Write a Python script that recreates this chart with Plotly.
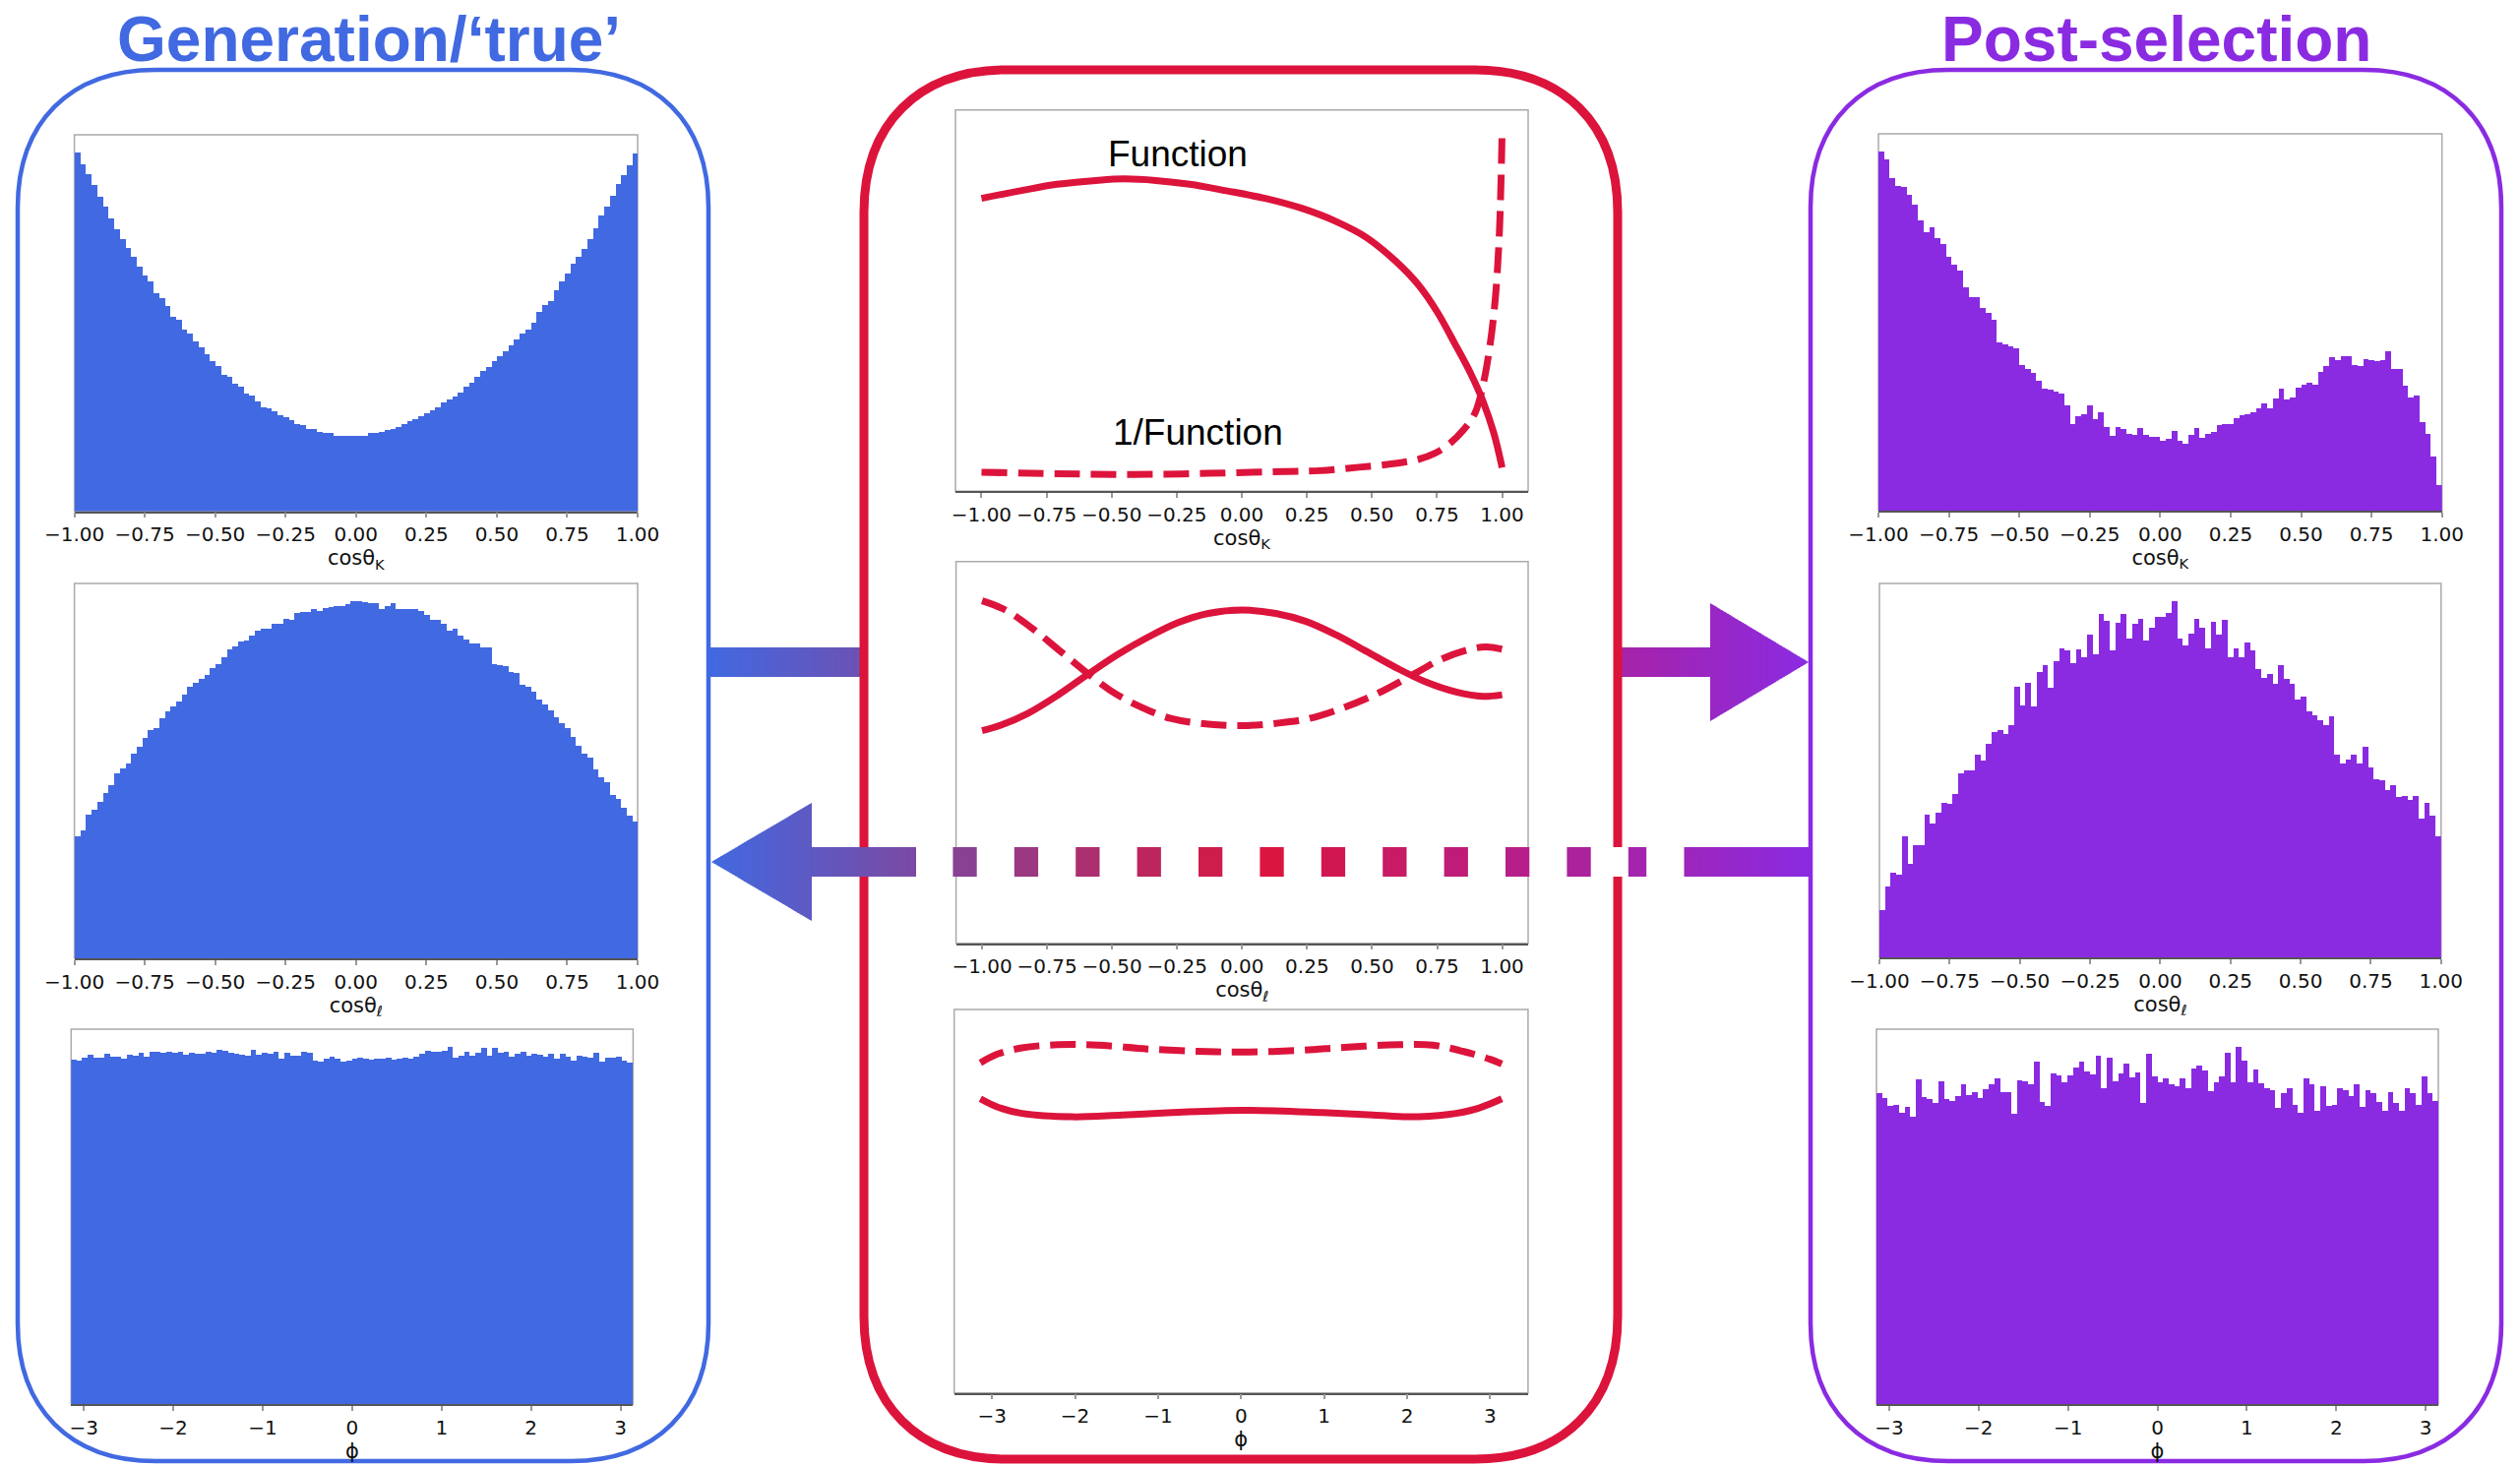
import numpy as np
import plotly.graph_objects as go

W, H = 2561, 1490

BLUE = "#4169E1"
RED = "#DC143C"
PURPLE = "#8A2BE2"

# ---------------- histogram contents (relative counts per bin) ----------------
gen_cosk = [
    100, 96.8, 94, 91, 87.7, 85, 81.6, 78.7, 75.9, 73.4,
    70.9, 68.1, 65.8, 64.2, 60.8, 59.3, 57.2, 54.3, 53.4, 50.6,
    49.5, 47.4, 45.6, 43.7, 41.9, 40.4, 38, 37.4, 35.5, 34.8,
    32.7, 32.2, 30.6, 29, 28.8, 27.8, 26.9, 26.1, 25.3, 24.3,
    24, 22.9, 22.9, 22.2, 21.7, 21.7, 21.1, 21.1, 20.9, 21.1,
    21.1, 20.9, 21.7, 21.7, 22.2, 22.7, 23.0, 23.6, 24.3, 25.0,
    25.7, 26.4, 27.4, 28.2, 29.0, 30.2, 31.1, 32.0, 33.2, 34.8,
    35.9, 37.4, 39.0, 40.1, 41.9, 43.2, 44.6, 46.3, 47.8, 49.5,
    50.6, 52.7, 55.5, 57.6, 58.5, 61.6, 64.2, 66.4, 69.0, 70.9,
    73.2, 75.8, 79.0, 82.4, 85.0, 87.9, 91.2, 93.8, 96.6, 99.7,
]
gen_cosl = [
    34.1, 35.9, 40.3, 41.6, 43.7, 46.2, 48.5, 51.7, 53.3, 54.5,
    57.4, 59.3, 61.7, 63.9, 64.4, 67.2, 69.2, 70.6, 71.8, 73.8,
    76.0, 77.3, 78.4, 79.5, 81.2, 82.5, 84.4, 86.4, 87.4, 88.7,
    89.0, 90.5, 91.7, 92.2, 92.4, 93.6, 93.8, 95.1, 94.8, 96.8,
    97.0, 97.0, 97.9, 97.4, 98.2, 98.4, 98.8, 98.6, 99.2, 100,
    100, 99.7, 99.5, 99.5, 97.9, 98.8, 99.5, 97.9, 97.7, 97.7,
    97.9, 97.2, 96.3, 94.9, 94.7, 93.6, 91.7, 92.2, 90.3, 89.2,
    88.1, 88.3, 87.1, 87.1, 82.5, 82.1, 81.9, 80.1, 79.8, 76.7,
    76.1, 74.7, 72.4, 71.0, 69.4, 67.6, 66.0, 64.4, 61.9, 59.6,
    57.3, 56.2, 52.8, 50.8, 49.4, 45.8, 44.6, 42.3, 40.0, 38.2,
]
gen_phi = [
    96.4, 96.1, 97.1, 97.7, 97.1, 97.1, 98.2, 97.3, 97.3, 96.8,
    97.8, 97.5, 98.3, 97.2, 98.7, 98.6, 98.3, 98.6, 98.3, 98.6,
    97.7, 98.4, 98.0, 98.0, 98.7, 98.3, 99.2, 98.9, 98.4, 98.0,
    97.8, 97.5, 99.2, 97.8, 98.4, 98.0, 98.7, 96.6, 98.4, 97.5,
    97.5, 98.7, 98.3, 96.1, 95.9, 96.6, 97.3, 96.6, 95.9, 96.1,
    96.6, 97.1, 96.8, 96.4, 96.8, 96.8, 97.0, 96.4, 96.6, 97.1,
    96.6, 97.3, 98.0, 98.9, 98.8, 98.8, 98.9, 100, 97.1, 97.5,
    98.7, 97.5, 98.4, 99.8, 97.5, 99.8, 98.4, 98.6, 97.3, 98.0,
    98.6, 97.5, 98.0, 97.7, 97.3, 98.0, 96.8, 98.0, 97.3, 96.1,
    97.5, 97.2, 97.1, 98.4, 95.9, 97.1, 97.1, 97.3, 96.1, 95.5,
]
sel_cosk = [
    100, 97.9, 92.6, 90.5, 90.3, 88, 85.3, 80.9, 77.7, 79,
    75.9, 74.3, 70.7, 68.5, 67, 62.3, 59.6, 59.6, 56.4, 55.1,
    53.3, 47, 46.2, 45.9, 45.2, 40.7, 39.6, 38.3, 36.2, 34.1,
    33.6, 33.3, 32.6, 29.4, 24.2, 26.3, 27, 29.4, 25.5, 27.5,
    23.3, 20.7, 23.3, 22.8, 21.3, 21, 22.9, 21, 20.5, 20.5,
    19.4, 20, 22.3, 19.4, 18.6, 21.2, 22.9, 20.3, 21.3, 21.8,
    23.8, 24.2, 24.2, 25.7, 26.6, 27, 27.3, 28.4, 29.9, 28.4,
    31.2, 33.9, 31, 31.5, 34.3, 35.2, 35.7, 35, 38.6, 40.4,
    42.9, 42, 43.1, 43.1, 40.7, 40.2, 42.3, 42, 41.7, 42,
    44.3, 39.4, 39.4, 34.7, 31.5, 32.2, 24.7, 21.5, 15, 7,
]
sel_cosl = [
    13.3, 20, 23.7, 23.2, 33.9, 26.2, 31.5, 31.5, 40, 37.7,
    40.7, 43.4, 43, 46, 51.8, 52.4, 52.4, 56.9, 55.2, 60.1,
    63.3, 63.9, 62.8, 65.3, 76.1, 70.7, 77, 70.4, 80, 82.2,
    75.7, 83.3, 86.9, 86.3, 82.6, 86.5, 84.2, 90.6, 85.1, 96.3,
    94.6, 86.2, 94, 96.4, 89.5, 93.7, 95, 89, 92.7, 95.5,
    95.5, 96.8, 100, 89.4, 87.7, 90.9, 95, 92.6, 86.9, 94.1,
    90.6, 94.8, 84.2, 86.9, 84.4, 88.3, 86.3, 81, 78.4, 79.6,
    76.8, 82.2, 78.2, 76.8, 72.4, 73.3, 69.2, 68.1, 66.7, 65.3,
    67.8, 56.9, 54.5, 55.5, 57, 54.5, 59.1, 53.2, 49.9, 49.7,
    47.1, 48.3, 45.1, 45.3, 44.3, 45.3, 38.9, 43.4, 39.7, 33.9,
]
sel_phi = [
    87.1, 85.8, 83.5, 83.9, 81.7, 83.1, 80.5, 90.9, 85.9, 85.4,
    84.2, 90.4, 85.4, 84.9, 86.3, 89.5, 86.5, 87.4, 85.8, 88.3,
    89.5, 91.1, 87.4, 87.4, 81.2, 90.8, 90.4, 89.7, 95.9, 84.7,
    83.5, 92.5, 92, 90.2, 92, 94.3, 95.9, 93.2, 92.3, 97.5,
    88.6, 97.1, 90.4, 92.7, 95.4, 91.6, 92.9, 84.2, 98.2, 91.8,
    90, 91.1, 89.7, 89.1, 91.3, 88.6, 94, 94.8, 93.4, 87.6,
    90.2, 91.8, 98.4, 90.2, 100, 96.3, 90, 93.8, 89.9, 88.5,
    87.9, 83, 87.1, 88.6, 83.9, 81.6, 91.3, 89.5, 82.1, 89.1,
    83.6, 83.8, 88.5, 87.9, 86.3, 89.7, 83.1, 87.9, 87.2, 84.7,
    82.2, 87.4, 84.4, 82.2, 88.5, 87, 83.9, 91.7, 87, 84.9,
]

# ---------------- acceptance function and its inverse ----------------
k_x_fn = [-1.0, -0.85, -0.71, -0.56, -0.45, -0.33, -0.2, -0.06, 0.09, 0.23,
          0.36, 0.48, 0.59, 0.68, 0.75, 0.82, 0.88, 0.925, 0.968, 1.0]
k_fn = [0.768, 0.788, 0.805, 0.815, 0.819, 0.815, 0.805, 0.788, 0.768, 0.742,
        0.708, 0.665, 0.604, 0.540, 0.471, 0.385, 0.308, 0.239, 0.153, 0.062]
k_x_inv = [-1.0, -0.71, -0.42, -0.13, 0.16, 0.3, 0.45, 0.59, 0.68, 0.74,
           0.795, 0.853, 0.896, 0.925, 0.954, 0.975, 0.99, 1.0]
k_inv = [0.050, 0.046, 0.044, 0.047, 0.052, 0.054, 0.063, 0.073, 0.084, 0.099,
         0.123, 0.162, 0.205, 0.273, 0.385, 0.514, 0.686, 0.944]

l_x_fn = [-1.0, -0.925, -0.824, -0.708, -0.592, -0.477, -0.361, -0.246, -0.13, 0.0,
          0.13, 0.246, 0.361, 0.477, 0.592, 0.708, 0.824, 0.925, 1.0]
l_fn = [0.557, 0.572, 0.602, 0.650, 0.705, 0.757, 0.802, 0.840, 0.864, 0.873,
        0.864, 0.843, 0.808, 0.765, 0.722, 0.684, 0.658, 0.647, 0.651]
l_x_inv = [-1.0, -0.91, -0.809, -0.708, -0.607, -0.506, -0.405, -0.275, -0.13, 0.0,
           0.13, 0.26, 0.39, 0.52, 0.65, 0.766, 0.882, 0.939, 1.0]
l_inv = [0.897, 0.873, 0.826, 0.770, 0.714, 0.662, 0.624, 0.589, 0.574, 0.570,
         0.576, 0.589, 0.617, 0.654, 0.701, 0.744, 0.771, 0.776, 0.770]

p_x_fn = [-3.14, -2.94, -2.64, -2.03, -1.43, -0.83, 0, 0.98, 1.59, 2.01, 2.49, 2.85, 3.14]
p_fn = [0.767, 0.746, 0.729, 0.720, 0.725, 0.731, 0.737, 0.731, 0.725, 0.720, 0.726, 0.742, 0.767]
p_x_inv = [-3.14, -2.94, -2.64, -2.21, -1.73, -1.13, -0.53, 0, 0.68, 1.29, 1.89, 2.31, 2.67, 3.0, 3.14]
p_inv = [0.861, 0.883, 0.900, 0.908, 0.907, 0.897, 0.891, 0.889, 0.893, 0.902, 0.908, 0.907, 0.891, 0.870, 0.858]

cos_ticks = [-1, -0.75, -0.5, -0.25, 0, 0.25, 0.5, 0.75, 1]
cos_ticktext = ["\u22121.00", "\u22120.75", "\u22120.50", "\u22120.25", "0.00", "0.25", "0.50", "0.75", "1.00"]
phi_ticks = [-3, -2, -1, 0, 1, 2, 3]
phi_ticktext = ["\u22123", "\u22122", "\u22121", "0", "1", "2", "3"]

LBL_K = "cos\u03b8<sub>K</sub>"
LBL_L = "cos\u03b8<sub>\u2113</sub>"
LBL_P = "\u03d5"


def X(p):
    return p / W


def Y(p):
    return 1 - p / H


def xa(i):
    return "x" if i == 1 else f"x{i}"


def ya(i):
    return "y" if i == 1 else f"y{i}"


# panel frames in pixels: (left, right, top, bottom)
panels = {
    1: (75.6, 648, 137, 519.5),
    2: (75.6, 648, 593, 974),
    3: (72.3, 643.4, 1046, 1427),
    4: (971, 1553, 111.7, 499.3),
    5: (971.6, 1553, 570.7, 958.7),
    6: (969.7, 1552.9, 1026, 1415.7),
    7: (1909, 2481.7, 136, 519),
    8: (1910, 2480.8, 593, 973),
    9: (1907, 2478, 1046, 1427),
}

fig = go.Figure()


def add_hist(idx, values, lo, hi, color):
    n = len(values)
    edges = np.linspace(lo, hi, n + 1)
    centers = (edges[:-1] + edges[1:]) / 2
    fig.add_trace(go.Bar(
        x=centers, y=values, width=(hi - lo) / n,
        marker=dict(color=color, line=dict(width=0)),
        xaxis=xa(idx), yaxis=ya(idx), hoverinfo="skip",
    ))
    return [0, max(values) * 1.05]


def add_curve(idx, xs, ys, dashed):
    fig.add_trace(go.Scatter(
        x=xs, y=ys, mode="lines",
        line=dict(color=RED, width=7, shape="spline", smoothing=1.0,
                  dash="26px,11px" if dashed else "solid"),
        xaxis=xa(idx), yaxis=ya(idx), hoverinfo="skip",
    ))


yranges = {}
yranges[1] = add_hist(1, gen_cosk, -1, 1, BLUE)
yranges[2] = add_hist(2, gen_cosl, -1, 1, BLUE)
yranges[3] = add_hist(3, gen_phi, -np.pi, np.pi, BLUE)
yranges[7] = add_hist(7, sel_cosk, -1, 1, PURPLE)
yranges[8] = add_hist(8, sel_cosl, -1, 1, PURPLE)
yranges[9] = add_hist(9, sel_phi, -np.pi, np.pi, PURPLE)

add_curve(4, k_x_fn, k_fn, False)
add_curve(4, k_x_inv, k_inv, True)
add_curve(5, l_x_fn, l_fn, False)
add_curve(5, l_x_inv, l_inv, True)
add_curve(6, p_x_fn, p_fn, False)
add_curve(6, p_x_inv, p_inv, True)
for i in (4, 5, 6):
    yranges[i] = [0, 1]

xranges = {1: [-1, 1], 2: [-1, 1], 3: [-np.pi, np.pi],
           4: [-1.1, 1.1], 5: [-1.1, 1.1], 6: [-1.1 * np.pi, 1.1 * np.pi],
           7: [-1, 1], 8: [-1, 1], 9: [-np.pi, np.pi]}
xlabels = {1: LBL_K, 2: LBL_L, 3: LBL_P, 4: LBL_K, 5: LBL_L, 6: LBL_P,
           7: LBL_K, 8: LBL_L, 9: LBL_P}

tickfont = dict(family="DejaVu Sans", size=20, color="#111")
labelfont = dict(family="DejaVu Sans", size=21, color="#111")
layout = {}
shapes = []
for i, (l, r, t, b) in panels.items():
    is_phi = i in (3, 6, 9)
    key = "" if i == 1 else str(i)
    layout[f"xaxis{key}"] = dict(
        domain=[X(l), X(r)], anchor=ya(i), range=xranges[i],
        tickmode="array",
        tickvals=phi_ticks if is_phi else cos_ticks,
        ticktext=phi_ticktext if is_phi else cos_ticktext,
        ticks="outside", ticklen=5, tickwidth=1.5, tickcolor="#999",
        tickfont=tickfont, showline=True, linecolor="#555", linewidth=1.5,
        showgrid=False, zeroline=False, fixedrange=True, automargin=False,
        title=dict(text=xlabels[i], font=labelfont, standoff=3),
    )
    layout[f"yaxis{key}"] = dict(
        domain=[Y(b), Y(t)], anchor=xa(i), range=yranges[i],
        visible=False, fixedrange=True, automargin=False,
    )
    shapes.append(dict(type="rect", xref=f"{xa(i)} domain", yref=f"{ya(i)} domain",
                       x0=0, x1=1, y0=0, y1=1, layer="below",
                       line=dict(color="#aaaaaa", width=1.5)))

# ---------------- colour ramp for the arrows ----------------
STOPS = [(0.0, (65, 105, 225)), (0.5, (220, 20, 60)), (1.0, (138, 43, 226))]
RAMP_X0, RAMP_X1 = 720.0, 1840.0


def ramp(xpix):
    t = min(max((xpix - RAMP_X0) / (RAMP_X1 - RAMP_X0), 0), 1)
    for (t0, c0), (t1, c1) in zip(STOPS[:-1], STOPS[1:]):
        if t <= t1:
            f = (t - t0) / (t1 - t0)
            c = [round(a + (bb - a) * f) for a, bb in zip(c0, c1)]
            return f"rgb({c[0]},{c[1]},{c[2]})"
    c = STOPS[-1][1]
    return f"rgb({c[0]},{c[1]},{c[2]})"


def bar_strips(x0, x1, y0, y1, layer, step=3.0):
    out = []
    xa_ = x0
    while xa_ < x1 - 1e-6:
        xb = min(xa_ + step, x1)
        out.append(dict(type="rect", xref="paper", yref="paper",
                        x0=X(xa_), x1=X(min(xb + 0.8, x1)), y0=Y(y1), y1=Y(y0),
                        fillcolor=ramp((xa_ + xb) / 2), line=dict(width=0), layer=layer))
        xa_ = xb
    return out


def head_strips(xbase, xtip, yc, half, layer, step=3.0):
    out = []
    lo, hi = min(xbase, xtip), max(xbase, xtip)
    xa_ = lo
    span = abs(xtip - xbase)
    while xa_ < hi - 1e-6:
        xb = min(xa_ + step, hi)
        xb2 = min(xb + 0.8, hi)
        ha = half * abs(xtip - xa_) / span
        hb = half * abs(xtip - xb2) / span
        path = (f"M {X(xa_)},{Y(yc - ha)} L {X(xb2)},{Y(yc - hb)} "
                f"L {X(xb2)},{Y(yc + hb)} L {X(xa_)},{Y(yc + ha)} Z")
        out.append(dict(type="path", xref="paper", yref="paper", path=path,
                        fillcolor=ramp((xa_ + xb) / 2), line=dict(width=0), layer=layer))
        xa_ = xb
    return out


# forward arrow (generation -> selection), partly hidden by the middle box
shapes += bar_strips(720, 880, 658, 688, "below")
shapes += bar_strips(1644, 1740, 658, 688, "below")
shapes += head_strips(1738, 1838, 673, 60, "below")


def rounded_box(x0, y0, x1, y1, r, color, width):
    k = 0.62 * r
    p = (f"M {X(x0 + r)},{Y(y0)} L {X(x1 - r)},{Y(y0)} "
         f"C {X(x1 - r + k)},{Y(y0)} {X(x1)},{Y(y0 + r - k)} {X(x1)},{Y(y0 + r)} "
         f"L {X(x1)},{Y(y1 - r)} "
         f"C {X(x1)},{Y(y1 - r + k)} {X(x1 - r + k)},{Y(y1)} {X(x1 - r)},{Y(y1)} "
         f"L {X(x0 + r)},{Y(y1)} "
         f"C {X(x0 + r - k)},{Y(y1)} {X(x0)},{Y(y1 - r + k)} {X(x0)},{Y(y1 - r)} "
         f"L {X(x0)},{Y(y0 + r)} "
         f"C {X(x0)},{Y(y0 + r - k)} {X(x0 + r - k)},{Y(y0)} {X(x0 + r)},{Y(y0)} Z")
    return dict(type="path", xref="paper", yref="paper", path=p,
                line=dict(color=color, width=width), layer="below")


shapes.append(rounded_box(18, 71, 720, 1485, 140, BLUE, 4.5))
shapes.append(rounded_box(878, 71, 1644, 1483, 145, RED, 9))
shapes.append(rounded_box(1840, 71, 2542, 1485, 140, PURPLE, 4.5))

# backward arrow (selection -> generation), dashed across the middle box
shapes.append(dict(type="rect", xref="paper", yref="paper",
                   x0=X(931), x1=X(1711), y0=Y(891), y1=Y(861),
                   fillcolor="white", line=dict(width=0), layer="above"))
shapes += head_strips(825, 723, 876, 60, "above")
shapes += bar_strips(823, 931, 861, 891, "above")
dash_starts = [968.4 + 62.4 * k for k in range(12)]
for k, xs in enumerate(dash_starts):
    wdt = 24.3 if k < 11 else 18.4
    shapes.append(dict(type="rect", xref="paper", yref="paper",
                       x0=X(xs), x1=X(xs + wdt), y0=Y(891), y1=Y(861),
                       fillcolor=ramp(xs + wdt / 2), line=dict(width=0), layer="above"))
shapes += bar_strips(1711.5, 1842, 861, 891, "above")

annotations = [
    dict(text="<b>Generation/\u2018true\u2019</b>", x=X(375), y=Y(40), xref="paper", yref="paper",
         showarrow=False, xanchor="center", yanchor="middle",
         font=dict(family="Liberation Sans", size=64, color=BLUE)),
    dict(text="<b>Post-selection</b>", x=X(2191), y=Y(40), xref="paper", yref="paper",
         showarrow=False, xanchor="center", yanchor="middle",
         font=dict(family="Liberation Sans", size=64, color=PURPLE)),
    dict(text="Function", x=-0.247, y=0.884, xref="x4", yref="y4",
         showarrow=False, xanchor="center", yanchor="middle",
         font=dict(family="Liberation Sans", size=37, color="black")),
    dict(text="1/Function", x=-0.17, y=0.155, xref="x4", yref="y4",
         showarrow=False, xanchor="center", yanchor="middle",
         font=dict(family="Liberation Sans", size=37, color="black")),
]

fig.update_layout(
    width=W, height=H,
    margin=dict(l=0, r=0, t=0, b=0, pad=0, autoexpand=False),
    autosize=False,
    paper_bgcolor="white", plot_bgcolor="rgba(0,0,0,0)",
    showlegend=False, barmode="overlay", bargap=0,
    shapes=shapes, annotations=annotations,
    **layout,
)

fig.write_html("out.html", config={"displayModeBar": False, "responsive": False})

# keep the page free of the browser's default body margin
with open("out.html", encoding="utf-8") as fh:
    html = fh.read()
html = html.replace("<head>", "<head><style>html,body{margin:0;padding:0;overflow:hidden;}</style>", 1)
with open("out.html", "w", encoding="utf-8") as fh:
    fh.write(html)
